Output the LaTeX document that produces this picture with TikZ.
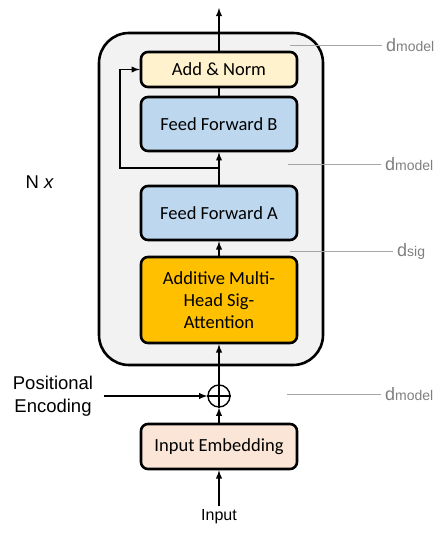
\documentclass[tikz,border=0pt]{standalone}
\usepackage{fontspec}
\setmainfont{Carlito}
\newfontfamily\arialfont{Liberation Sans}
\usetikzlibrary{arrows,backgrounds,positioning,fit}
\definecolor{normfill}{HTML}{FFF2CC}
\definecolor{ffwdfill}{HTML}{BDD7EE}
\definecolor{attnfill}{HTML}{FFC000}
\definecolor{embfill}{HTML}{FBE5D6}
\definecolor{layerfill}{HTML}{F2F2F2}
\definecolor{dimgray}{HTML}{7F7F7F}
\definecolor{dimline}{HTML}{A6A6A6}
\tikzset{block node/.style={rectangle, draw=black, line width=2.6pt,
    rounded corners=7pt, minimum width=156pt, align=center,
    font=\fontsize{18.5}{22}\selectfont}}
\tikzset{regular edge/.style={draw=black, line width=1.8pt}}
\tikzset{flow edge/.style={regular edge, -latex}}
\tikzset{side text/.style={font=\arialfont\fontsize{18.5}{23}\selectfont, align=center}}
\tikzset{dim text/.style={text=dimgray, inner sep=0pt, anchor=west}}
\tikzset{dim edge/.style={draw=dimline, line width=0.7pt, shorten >=4pt}}
\newcommand{\dimsize}[1]{{\arialfont\fontsize{18}{18}\selectfont d}{\arialfont\fontsize{14}{14}\selectfont #1}}

\begin{document}
\begin{tikzpicture}
      [x=1pt, y=-1pt]
      \useasboundingbox (0,0) rectangle (447,537);

      % encoder layer
      \node [block node, draw=black, fill=layerfill, rounded corners=30pt,
        minimum width=224pt, minimum height=332pt] (layer) at (211,199) {};

      \node [block node, fill=normfill, minimum height=35pt] (addnorm) at (219,69.5)  {Add \& Norm};
      \node [block node, fill=ffwdfill, minimum height=54pt] (ffwdb)   at (219,124)   {Feed Forward B};
      \node [block node, fill=ffwdfill, minimum height=54pt] (ffwda)   at (219,213)   {Feed Forward A};
      \node [block node, fill=attnfill, minimum height=86pt] (attn)    at (219,300)   {Additive Multi-\\Head Sig-\\Attention};
      \node [block node, fill=embfill,  minimum height=45pt] (embed)   at (219,446.5) {Input Embedding};

      \node [circle, draw, line width=1.4pt, minimum size=22pt, inner sep=0pt] (sum) at (219,396) {};
      \draw [line width=1.2pt] (sum.north) -- (sum.south) (sum.west) -- (sum.east);

      \node [side text] (posenc) at (53,396)  {Positional\\Encoding};
      \node [font=\arialfont\fontsize{16}{16}\selectfont] (input) at (219,517) {Input};
      \node [side text, anchor=west] (nx) at (22,182) {N \textit{x}};

      \coordinate (out)    at (219,8);
      \coordinate (split)  at (219,168);
      \coordinate (corner) at (120,69.5);

      \draw [flow edge]    (input.north) to (embed.south);
      \draw [flow edge]    (embed.north) to (sum.south);
      \draw [flow edge, shorten <=7pt] (posenc.east) to (sum.west);
      \draw [flow edge]    (sum.north)   to (attn.south);
      \draw [flow edge]    (attn.north)  to (ffwda.south);
      \draw [flow edge]    (ffwda.north) to (ffwdb.south);
      \draw [regular edge] (ffwdb.north) to (addnorm.south);
      \draw [flow edge]    (addnorm.north) to (out);
      \draw [flow edge]    (split) -| (corner) -- (addnorm.west);

      % dimensions
      \node [dim text] (dtop) at (386,45)  {\dimsize{model}};
      \node [dim text] (dmid) at (385,164) {\dimsize{model}};
      \node [dim text] (dsig) at (397,251) {\dimsize{sig}};
      \node [dim text] (dbot) at (385,394) {\dimsize{model}};

      \coordinate (dtop') at (290,45);
      \coordinate (dmid') at (288,164);
      \coordinate (dsig') at (290,251);
      \coordinate (dbot') at (287,394);

      \draw [dim edge] (dtop') -- (dtop.west);
      \draw [dim edge] (dmid') -- (dmid.west);
      \draw [dim edge] (dsig') -- (dsig.west);
      \draw [dim edge] (dbot') -- (dbot.west);
    \end{tikzpicture}
\end{document}
